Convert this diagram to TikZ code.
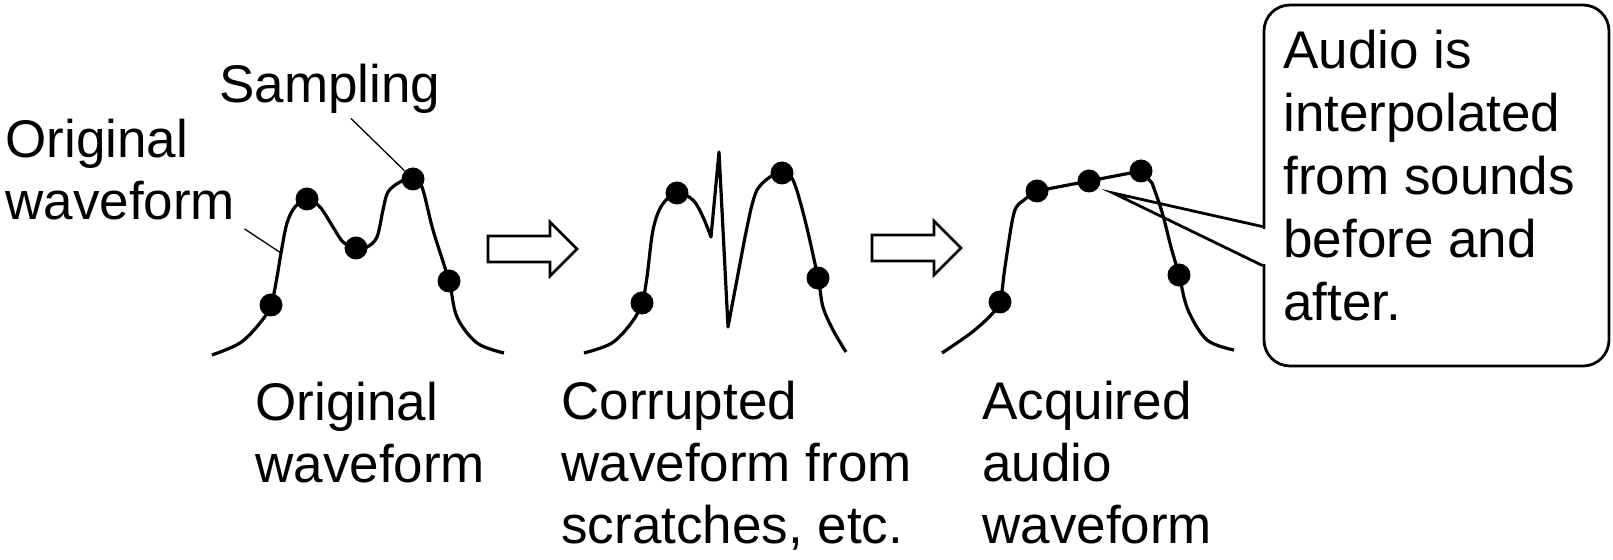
\documentclass[tikz,border=0pt]{standalone}
\usepackage{fontspec}
\setmainfont{Liberation Sans}
\usetikzlibrary{calc,positioning}
\tikzset{
  wv/.style={line width=1.6pt,line join=round},
  dot/.style={circle,fill=black,inner sep=0pt,minimum size=11.5pt},
  lead/.style={line width=0.65pt},
  blk/.style={line width=1.3pt,line join=miter},
  lbl/.style={font=\fontsize{26.5}{31}\selectfont,align=left,anchor=base west,inner sep=0pt},
  note/.style={draw,line width=1.4pt,rounded corners=13pt,inner sep=0pt,minimum width=172.5pt,minimum height=180.5pt}
}
\newcommand{\blkarrow}[2]{\draw[blk] (#1,#2-13) -- ++(62,0) -- ++(0,-14) -- (#1+89,#2)
  -- (#1+62,#2+27) -- ++(0,-14) -- (#1,#2+13) -- cycle;}

\begin{document}
\begin{tikzpicture}[x=0.5pt,y=-0.5pt]
\useasboundingbox (0,0) rectangle (1613,560);
\draw[wv] plot[smooth,tension=0.55] coordinates {(212,355) (240,343) (260,323) (271,305) (277,277) (281,253) (287,223) (295,207) (307,199) (320,207) (333,227) (343,242) (356,248) (367,247) (377,237) (383,210) (388,192) (400,182) (413,178) (422,187) (433,230) (449,281) (457,317) (477,343) (504,353)};
\draw[wv] plot[smooth,tension=0.55] coordinates {(584,353) (612,343) (632,322) (642,303) (647,277) (653,230) (662,205) (677,193) (693,200) (703,217) (711,237)}
  -- (719,152) -- (728,327) -- (745,237)
  -- plot[smooth,tension=0.55] coordinates {(750,213) (757,190) (770,177) (782,173) (793,180) (805,220) (818,278) (823,307) (833,330) (846,352)};
\draw[wv] plot[smooth,tension=0.55] coordinates {(942,353) (971,333) (990,316) (1000,302) (1005,267) (1014,213) (1024,200) (1037,191)}
  -- (1089,181) -- (1141,171)
  -- plot[smooth,tension=0.55] coordinates {(1152,183) (1162,212) (1171,247) (1179,275) (1188,310) (1207,340) (1234,350)};
\foreach \n/\x/\y in {d11/271/305,d12/307/199,d13/356/248,d14/413/179,d15/449/281,
  d21/642/303,d22/677/193,d23/782/173,d24/818/278,
  d31/1000/302,d32/1037/191,d33/1089/181,d34/1141/171,d35/1179/275}
  \node[dot] (\n) at (\x,\y) {};
\coordinate (w1tick) at (281,253);
\node[lbl] (samp) at (219,103) {Sampling};
\node[lbl] (orig) at (5,220) {Original\\waveform};
\draw[lead] ($(samp.south)+(21,4)$) -- (d14);
\draw[lead] ($(orig.south east)+(9,8)$) -- (w1tick);
\blkarrow{488}{249}
\blkarrow{872}{248}
\node[lbl] (cap1) at (255,483) {Original\\waveform};
\node[lbl] (cap2) at (561,544) {Corrupted\\waveform from\\scratches, etc.};
\node[lbl] (cap3) at (982,544) {Acquired\\audio\\waveform};
\node[note] (box) at (1436.5,185.5) {};
\node[lbl,font=\fontsize{26.5}{31.5}\selectfont] (boxtxt) at (1283,321) {Audio is\\interpolated\\from sounds\\before and\\after.};
\coordinate (ctip) at (1113,193);
\coordinate (cu) at ($(box.north west)+(0,223)$);
\coordinate (cl) at ($(box.north west)+(0,262)$);
\fill[white] ($(cu)+(-3,2)$) rectangle ($(cl)+(3,-2)$);
\draw[line width=1.4pt,line join=miter] (cu) -- (ctip) -- (cl);
\end{tikzpicture}
\end{document}
